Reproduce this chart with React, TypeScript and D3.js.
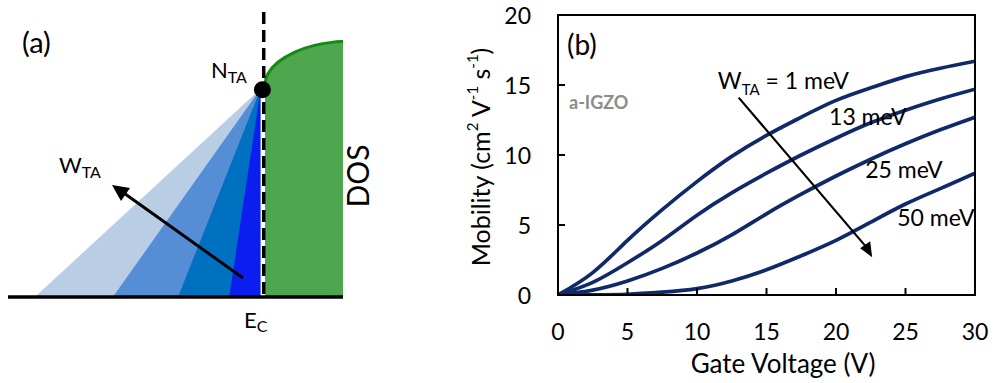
import React from 'react';
import * as d3 from 'd3';

// panel (b) data: mobility vs gate voltage for four tail widths
const gateVoltage = [0, 2.5, 5, 7.5, 10, 12.5, 15, 17.5, 20, 22.5, 25, 27.5, 30];
const mu1meV = [0, 1.6, 3.9, 6.1, 8.1, 9.9, 11.4, 12.7, 13.9, 14.8, 15.6, 16.2, 16.7];
const mu13meV = [0, 0.9, 2.3, 3.9, 5.7, 7.3, 8.7, 10.0, 11.2, 12.3, 13.2, 14.0, 14.7];
const mu25meV = [0, 0.35, 1.0, 1.9, 3.0, 4.3, 5.8, 7.2, 8.5, 9.7, 10.8, 11.8, 12.7];
const mu50meV = [0, 0.01, 0.05, 0.2, 0.45, 1.0, 1.8, 2.8, 3.9, 5.2, 6.5, 7.6, 8.7];
const seriesB = [mu1meV, mu13meV, mu25meV, mu50meV];
const xTicksB = [0, 5, 10, 15, 20, 25, 30];
const yTicksB = [0, 5, 10, 15, 20];

// panel (a) schematic: tail edges (energy, Ec = 0) and band DOS
const tailEdges = [-0.895, -0.59, -0.335, -0.135];
const tailColors = ['#b9cde5', '#558ed5', '#0070c0', '#0a1ef0'];
const bandEnergy = [0.005, 0.012, 0.05, 0.12, 0.2, 0.27, 0.31];
const bandDos = [0.801, 0.835, 0.88, 0.92, 0.945, 0.955, 0.957];
const nTA = 0.78;

const FONT = 'Lato, "Open Sans", sans-serif';
const NAVY = '#10296a';

const PanelA = () => {
  const xA = d3.scaleLinear().domain([-1, 0.31]).range([8, 343]);
  const yA = d3.scaleLinear().domain([0, 1]).range([297, 30]);
  const apexE = -0.012;
  const band = bandEnergy.map((e, i) => [e, bandDos[i]] as [number, number]);
  const area = d3.area<[number, number]>()
    .x(d => xA(d[0])).y0(yA(0)).y1(d => yA(d[1]))
    .curve(d3.curveBasis);
  const top = d3.line<[number, number]>()
    .x(d => xA(d[0])).y(d => yA(d[1]))
    .curve(d3.curveBasis);

  return (
    <g>
      {tailEdges.map((e, i) => (
        <polygon
          key={i}
          points={[
            [xA(e), yA(0)],
            [xA(apexE), yA(nTA)],
            [xA(apexE), yA(0)],
          ].map(p => p.join(',')).join(' ')}
          fill={tailColors[i]}
        />
      ))}
      <rect x={xA(apexE)} y={12} width={xA(0.005) - xA(apexE)} height={yA(0) - 12} fill="#fff" />
      <path d={area(band) || ''} fill="#4ea64e" />
      <path d={top(band) || ''} fill="none" stroke="#138a13" strokeWidth={3} />
      <line x1={xA(0)} x2={xA(0)} y1={12} y2={yA(0)} stroke="#000" strokeWidth={3.5} strokeDasharray="12 6" />
      <line x1={8} x2={343} y1={yA(0)} y2={yA(0)} stroke="#000" strokeWidth={3.5} />
      <circle cx={xA(-0.005)} cy={yA(nTA) + 1} r={8.5} fill="#000" />
      <line x1={243} y1={278} x2={121} y2={191} stroke="#000" strokeWidth={3} />
      <polygon points="112,185 130,188 121,201" fill="#000" />
      <text x={22} y={53} fontSize={29} fontFamily={FONT}>(a)</text>
      <text x={211} y={78} fontSize={22} fontFamily={FONT}>
        N<tspan fontSize={16} dy={5}>TA</tspan>
      </text>
      <text x={59} y={173} fontSize={22} fontFamily={FONT}>
        W<tspan fontSize={16} dy={5}>TA</tspan>
      </text>
      <text x={244} y={328} fontSize={22} fontFamily={FONT}>
        E<tspan fontSize={16} dy={4}>C</tspan>
      </text>
      <text
        transform="translate(357,176) rotate(-90)"
        textAnchor="middle"
        dominantBaseline="central"
        fontSize={30}
        fontFamily={FONT}
      >DOS</text>
    </g>
  );
};

const PanelB = () => {
  const left = 558, right = 975, topY = 15, bottom = 295;
  const x = d3.scaleLinear().domain([0, 30]).range([left, right]);
  const y = d3.scaleLinear().domain([0, 20]).range([bottom, topY]);
  const line = d3.line<number>()
    .x((_, i) => x(gateVoltage[i]))
    .y(d => y(d))
    .curve(d3.curveNatural);
  const tick = 7;

  return (
    <g fontFamily={FONT}>
      <defs>
        <clipPath id="plotB">
          <rect x={left} y={topY} width={right - left} height={bottom - topY} />
        </clipPath>
      </defs>
      <g clipPath="url(#plotB)">
        {seriesB.map((s, i) => (
          <path key={i} d={line(s) || ''} fill="none" stroke={NAVY} strokeWidth={3.7} />
        ))}
      </g>
      <rect x={left} y={topY} width={right - left} height={bottom - topY} fill="none" stroke="#000" strokeWidth={2} />
      {xTicksB.map(t => (
        <g key={'x' + t}>
          <line x1={x(t)} x2={x(t)} y1={bottom} y2={bottom - tick} stroke="#000" strokeWidth={2} />
          <text x={x(t)} y={340} textAnchor="middle" fontSize={23}>{t}</text>
        </g>
      ))}
      {yTicksB.map(t => (
        <g key={'y' + t}>
          <line x1={left} x2={left + tick} y1={y(t)} y2={y(t)} stroke="#000" strokeWidth={2} />
          <text x={531} y={y(t)} textAnchor="end" dominantBaseline="central" fontSize={23}>{t}</text>
        </g>
      ))}
      <text x={783} y={373} textAnchor="middle" fontSize={26}>Gate Voltage (V)</text>
      <text
        transform="translate(480,157) rotate(-90)"
        textAnchor="middle"
        dominantBaseline="central"
        fontSize={25}
      >
        Mobility (cm<tspan fontSize={15} dy={-8}>2</tspan>
        <tspan dy={8}> V</tspan><tspan fontSize={15} dy={-8}>-1</tspan>
        <tspan dy={8}> s</tspan><tspan fontSize={15} dy={-8}>-1</tspan>
        <tspan dy={8}>)</tspan>
      </text>
      <text x={567} y={55} fontSize={28}>(b)</text>
      <text x={569} y={109} fontSize={18} fontWeight="bold" fill="#8c8c8c">a-IGZO</text>
      <text x={x(11.5)} y={y(15.2) + 7} fontSize={23}>
        W<tspan fontSize={15} dy={6}>TA</tspan><tspan dy={-6}> = 1 meV</tspan>
      </text>
      <text x={x(19.5)} y={y(12.7) + 8} fontSize={23}>13 meV</text>
      <text x={x(22.1)} y={y(8.9) + 8} fontSize={23}>25 meV</text>
      <text x={x(24.4)} y={y(5.5) + 8} fontSize={23}>50 meV</text>
      <line x1={x(13)} y1={y(14.1)} x2={x(22.2)} y2={y(3.4)} stroke="#000" strokeWidth={2.2} />
      <polygon
        points={`${x(22.6)},${y(2.7)} ${x(22.6) - 12},${y(2.7) - 9} ${x(22.6) - 2},${y(2.7) - 16}`}
        fill="#000"
      />
    </g>
  );
};

export default function App() {
  return (
    <svg
      width={996}
      height={383}
      style={{ position: 'absolute', left: 0, top: 0, background: '#fff' }}
    >
      <PanelA />
      <PanelB />
    </svg>
  );
}
